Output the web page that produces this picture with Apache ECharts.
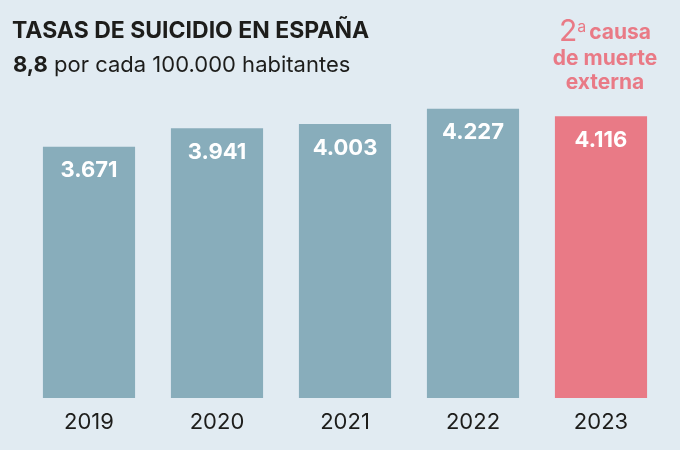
<!DOCTYPE html>
<html><head><meta charset="utf-8">
<script src="https://cdn.jsdelivr.net/npm/echarts@6/dist/echarts.min.js"></script>
<style>html,body{margin:0;padding:0;background:#e1ebf2}#c{width:680px;height:450px}</style>
</head><body><div id="c"></div>
<script>
const categories = ['2019','2020','2021','2022','2023'];
const values = [3671, 3941, 4003, 4227, 4116];
const valueLabels = ['3.671','3.941','4.003','4.227','4.116'];
const FONT = 'Inter';
const blue = '#88adbb', pink = '#e97a86', ink = '#1d1d1b';
const chart = echarts.init(document.getElementById('c'));
chart.setOption({
  backgroundColor: '#e1ebf2',
  animation: false,
  title: [{
    left: 7, top: 15,
    text: 'TASAS DE SUICIDIO EN ESPAÑA',
    textStyle: {fontFamily: FONT, fontWeight: 'bold', fontSize: 23, color: ink}
  },{
    left: 8, top: 49,
    text: '{b|8,8} por cada 100.000 habitantes',
    textStyle: {fontFamily: FONT, fontWeight: 'normal', fontSize: 22, color: ink,
      rich: {b: {fontFamily: FONT, fontWeight: 'bold', fontSize: 22, color: ink}}}
  },{
    left: 600, top: 14, textAlign: 'center',
    text: '{big|2}{sup|a}{c|causa}\n{c|de muerte}\n{c|externa}',
    textStyle: {fontFamily: FONT, color: pink, fontWeight: 'normal',
      rich: {
        big: {fontFamily: FONT, fontSize: 30, fontWeight: 'normal', color: pink, lineHeight: 28, verticalAlign: 'bottom'},
        sup: {fontFamily: FONT, fontSize: 16, fontWeight: 'normal', color: pink, lineHeight: 28, verticalAlign: 'top', padding: [0,3,12,0]},
        c: {fontFamily: FONT, fontWeight: 'bold', fontSize: 21, color: pink, lineHeight: 24}
      }}
  }],
  grid: {left: 25, right: 15, top: 90, bottom: 52},
  xAxis: {
    type: 'category', data: categories,
    axisLine: {show: false}, axisTick: {show: false},
    axisLabel: {fontFamily: FONT, fontSize: 22, color: ink, margin: 13}
  },
  yAxis: {type: 'value', min: 0, max: 4500, show: false, splitLine: {show: false}},
  series: [{
    type: 'bar', barCategoryGap: '28%',
    data: values.map((v, i) => ({value: v, itemStyle: {color: i === values.length - 1 ? pink : blue}})),
    label: {show: true, position: 'insideTop', distance: 13,
      formatter: p => valueLabels[p.dataIndex],
      fontFamily: FONT, fontWeight: 'bold', fontSize: 22, color: '#ffffff'}
  }]
});
</script></body></html>
